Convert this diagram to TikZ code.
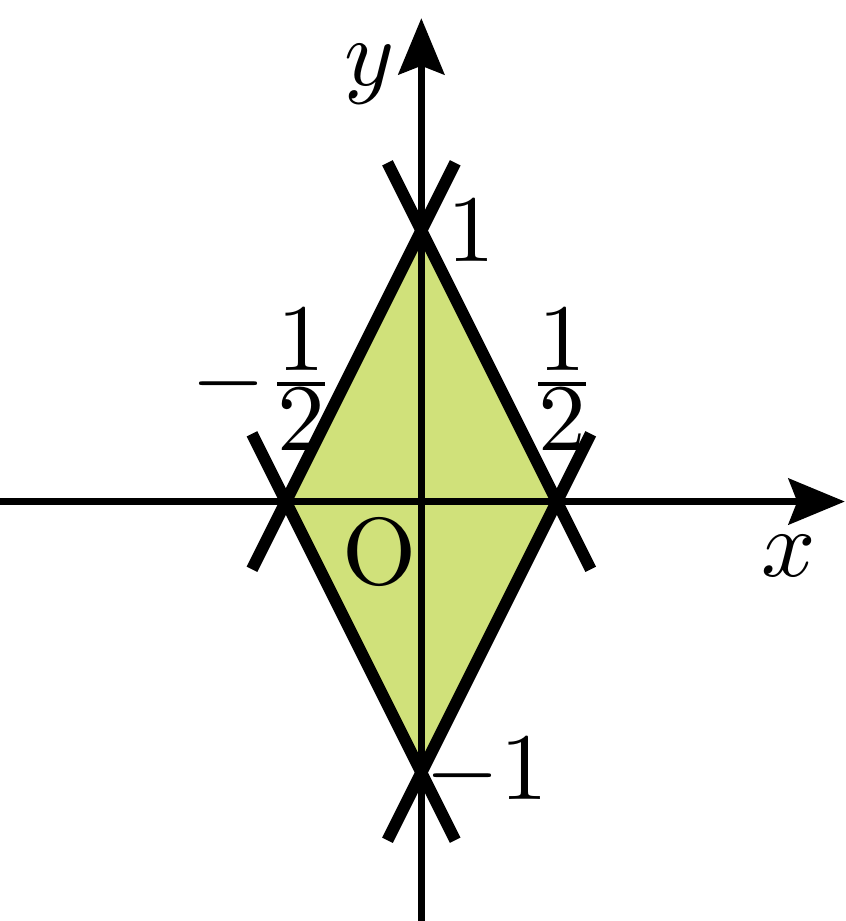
\documentclass[tikz,border=0pt]{standalone}
\usepackage{amsmath}
\usepackage{tikz}
\usetikzlibrary{arrows.meta,calc,positioning}
\definecolor{regionfill}{RGB}{208,225,122}
\tikzset{
    axis/.style={line width=0.8pt, -{Stealth[length=5.9pt, width=4.8pt, inset=0.9pt]}},
    edge/.style={line width=1.25pt},
    ticklabel/.style={inner sep=0pt},
}

\begin{document}
\begin{tikzpicture}
    \useasboundingbox (-1.555,-1.548) rectangle (1.567,1.851);
    % define points
    % axes
    \coordinate (origin) at (0,0);
    \coordinate (x_start) at (-1.555,0);
    \coordinate (x_end) at (1.563,0);
    \coordinate (y_start) at (0,-1.548);
    \coordinate (y_end) at (0,1.784);
    % corners of the region
    \coordinate (top) at (0,1);
    \coordinate (bottom) at (0,-1);
    \coordinate (left) at (-0.5,0);
    \coordinate (right) at (0.5,0);
    % fill region
    \fill[regionfill] (top) -- (right) -- (bottom) -- (left) -- cycle;
    % draw axes
    \draw[axis] (x_start) -- (x_end);
    \draw[axis] (y_start) -- (y_end);
    % draw boundary lines, a bit longer than the sides
    \draw[edge] ($(left)!-0.25!(top)$) -- ($(left)!1.25!(top)$);
    \draw[edge] ($(right)!-0.25!(top)$) -- ($(right)!1.25!(top)$);
    \draw[edge] ($(left)!-0.25!(bottom)$) -- ($(left)!1.25!(bottom)$);
    \draw[edge] ($(right)!-0.25!(bottom)$) -- ($(right)!1.25!(bottom)$);
    % add labels
    \node[ticklabel, below left=0.12 and 0.1 of x_end] (x_label) {$x$};
    \node[ticklabel, below left=0.09 and 0.09 of y_end] (y_label) {$y$};
    \node[ticklabel, below left=0.05 and 0.01 of origin] (o_label) {O};
    \node[ticklabel, right=0.09 of top] (top_label) {$1$};
    \node[ticklabel, right=0.01 of bottom] (bottom_label) {$-1$};
    \node[ticklabel, above=0.18 of right, xshift=0.02cm] (right_label) {$\frac{\textstyle 1}{\textstyle 2}$};
    \node[ticklabel, above=0.18 of left, xshift=-0.08cm] (left_label) {$-\frac{\textstyle 1}{\textstyle 2}$};
\end{tikzpicture}
\end{document}
